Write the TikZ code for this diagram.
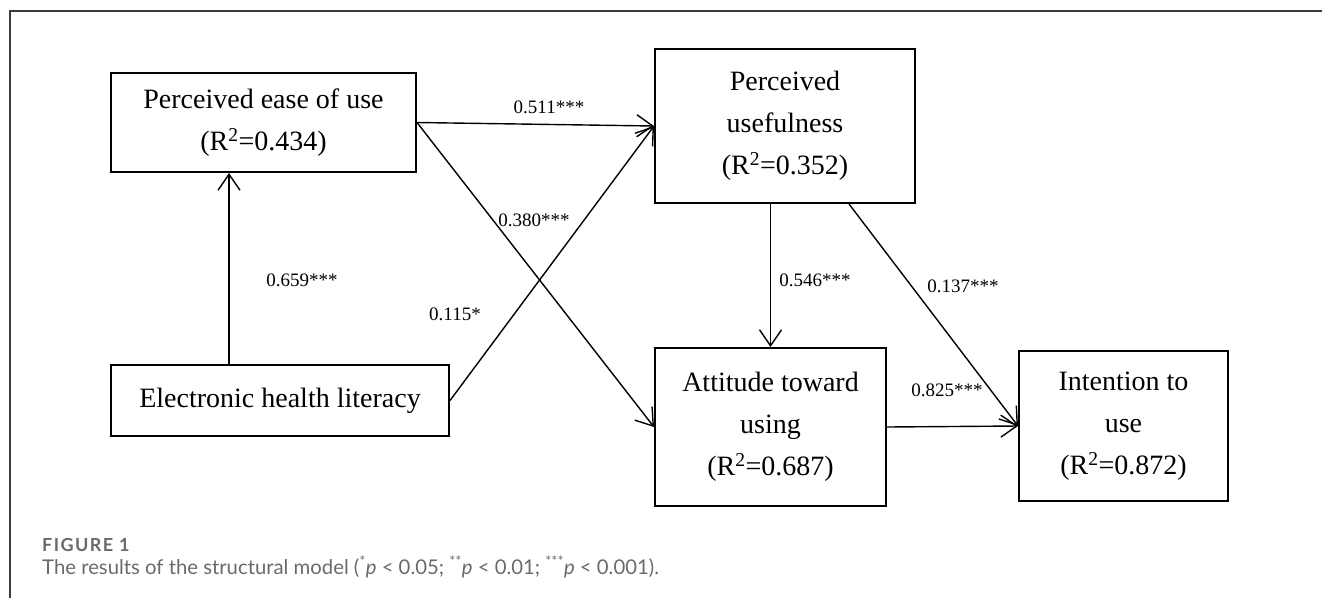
\documentclass[tikz,border=0pt]{standalone}
\usepackage{fontspec}
\setmainfont{Liberation Serif}
\newfontfamily\capfont{Lato}
\usetikzlibrary{arrows.meta}
\usetikzlibrary{positioning}

\definecolor{captiongray}{HTML}{6A6A6A}
\definecolor{framegray}{HTML}{3A3A3A}

\begin{document}
\begin{tikzpicture}[x=1pt,y=-1pt]
	\useasboundingbox (0,0) rectangle (1322,598);
	\draw[framegray, line width=1.5pt] (10,598) -- (10,11) -- (1322,11);

	\begin{scope}[every node/.style={draw, line width=2pt, align=center, inner sep=0pt,
	              font=\fontsize{28}{42}\selectfont}]
		\node[minimum width=305pt, minimum height=99pt] (peou) at (263.5,122.5) {Perceived ease of use\\(R\textsuperscript{2}=0.434)};
		\node[minimum width=260pt, minimum height=154pt] (pu) at (785,126) {Perceived\\usefulness\\(R\textsuperscript{2}=0.352)};
		\node[minimum width=338pt, minimum height=71pt] (ehl) at (280,400.5) {Electronic health literacy};
		\node[minimum width=231pt, minimum height=158pt] (atu) at (770.5,427) {Attitude toward\\using\\(R\textsuperscript{2}=0.687)};
		\node[minimum width=209pt, minimum height=150pt] (itu) at (1123.5,426) {Intention to\\use\\(R\textsuperscript{2}=0.872)};
	\end{scope}

	\begin{scope}[>={Straight Barb[length=16pt,width=22pt]},
	              every edge/.style={draw=black, line width=1.4pt, ->}]
		\path ([xshift=-51pt]ehl.north) edge ([xshift=-34.5pt]peou.south);
		\path (peou.east) edge (pu.west);
		\path (peou.east) edge (atu.west);
		\path (ehl.east) edge (pu.west);
		\path (atu.north |- pu.south) edge (atu.north);
		\path ([xshift=64pt]pu.south) edge (itu.west);
		\path (atu.east) edge (itu.west);
	\end{scope}

	\begin{scope}[every node/.style={inner sep=0pt, font=\fontsize{19}{22}\selectfont}]
		\node (c659) at (302,280) {0.659***};
		\node (c511) at (549,107) {0.511***};
		\node (c380) at (534,220) {0.380***};
		\node (c115) at (455,314) {0.115*};
		\node (c546) at (815,280) {0.546***};
		\node (c137) at (963,286) {0.137***};
		\node (c825) at (947,390) {0.825***};
	\end{scope}

	% caption below the model
	\node[anchor=base west, inner sep=0pt, text=captiongray,
	      font=\capfont\bfseries\fontsize{18}{20}\selectfont\addfontfeatures{LetterSpace=8}] (figno) at (42,551) {FIGURE 1};
	\node[anchor=base west, inner sep=0pt, text=captiongray, font=\capfont\fontsize{20.3}{23}\selectfont] (caption) at (42,574)
		{The results of the structural model (\textsuperscript{*}\textit{p} < 0.05; \textsuperscript{**}\textit{p} < 0.01; \textsuperscript{***}\textit{p} < 0.001).};
\end{tikzpicture}
\end{document}
